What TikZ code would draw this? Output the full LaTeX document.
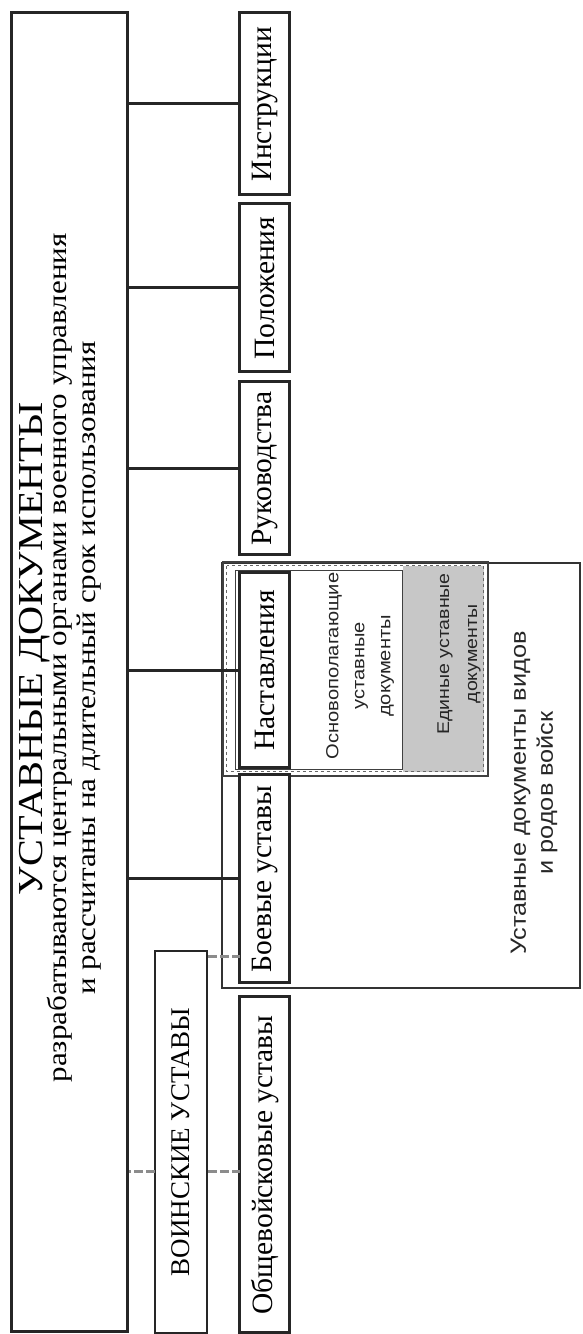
\documentclass[tikz,border=0pt]{standalone}
\usepackage{fontspec}
\setmainfont{Liberation Serif}[FakeStretch=1.15]
\newfontfamily\labelfont{Liberation Serif}
\newfontfamily\sansfont{Liberation Sans}[FakeStretch=1.15]

\tikzset{
  ubox/.style={draw=black!85, fill=white, line width=3pt, inner sep=0pt,
    minimum height=50pt, font=\labelfont\fontsize{29.5}{31}\selectfont},
  conn/.style={draw=black!85, line width=3pt},
  graylink/.style={draw=black!45, line width=3pt, dash pattern=on 9pt off 3pt},
  smalltxt/.style={align=center, inner sep=0pt, text=black!85},
}

\begin{document}
\begin{tikzpicture}[x=1pt, y=1pt, rotate=90, transform shape]
  \useasboundingbox (0,0) rectangle (1334,582);

  % troops documents frame with its inner blocks
  \node[draw=black!80, line width=2pt, minimum width=425pt, minimum height=358pt] (troops) at (558.5,181) {};
  \fill[black!22] (562,98) rectangle (768,179);
  \node[draw=black!75, line width=1pt, fill=white, minimum width=199pt, minimum height=167pt] (basic) at (663.5,262.5) {};
  \node[draw=black!75, line width=1.2pt, minimum width=214pt, minimum height=265pt] (dbl) at (665,226.5) {};
  \node[draw=black!60, line width=1pt, dashed, minimum width=206pt, minimum height=257pt] (dblin) at (665,226.5) {};

  \node[smalltxt, font=\sansfont\fontsize{17.5}{26}\selectfont] (basiclbl) at (668,222)
    {Основополагающие\\уставные\\документы};
  \node[smalltxt, font=\sansfont\fontsize{17}{28}\selectfont] (unilbl) at (680,123)
    {Единые уставные\\документы};
  \node[smalltxt, font=\sansfont\fontsize{22}{27}\selectfont] (troopslbl) at (541,48)
    {Уставные документы видов\\и родов войск};

  % top box
  \node[draw=black!85, line width=3pt, minimum width=1319pt, minimum height=116pt] (main) at (661.5,512) {};
  \node[anchor=base, inner sep=0pt, font=\fontsize{35}{36}\selectfont] (title) at (685,539) {УСТАВНЫЕ ДОКУМЕНТЫ};
  \node[anchor=base, inner sep=0pt, font=\fontsize{27}{28}\selectfont] (sub1) at (676,515)
    {разрабатываются центральными органами военного управления};
  \node[anchor=base, inner sep=0pt, font=\fontsize{27}{28}\selectfont] (sub2) at (666,486)
    {и рассчитаны на длительный срок использования};

  % kinds of documents
  \node[ubox, minimum width=182pt] (instr) at (1230,317) {Инструкции};
  \node[ubox, minimum width=168pt] (polo) at (1046,317) {Положения};
  \node[ubox, minimum width=173pt] (ruko) at (865.5,317) {Руководства};
  \node[ubox, minimum width=195pt] (nast) at (663.5,317) {Наставления};
  \node[ubox, minimum width=208pt] (boev) at (455,317) {Боевые уставы};
  \node[ubox, minimum width=336pt] (obsh) at (169,317) {Общевойсковые уставы};
  \node[ubox, line width=2.5pt, minimum width=382pt, minimum height=52pt,
    font=\labelfont\fontsize{27}{29}\selectfont] (voin) at (192,401) {ВОИНСКИЕ УСТАВЫ};

  \foreach \n in {instr,polo,ruko,nast,boev}
    \draw[conn] (\n.north) -- (\n.north |- main.south);

  % military regulations links
  \coordinate (vtap) at (162,427);
  \coordinate (otap) at (162,342);
  \coordinate (btap) at (377,342);
  \draw[graylink] (vtap) -- (vtap |- main.south);
  \draw[graylink] (otap |- voin.south) -- (otap);
  \draw[graylink] (btap |- voin.south) -- (btap);
\end{tikzpicture}
\end{document}
